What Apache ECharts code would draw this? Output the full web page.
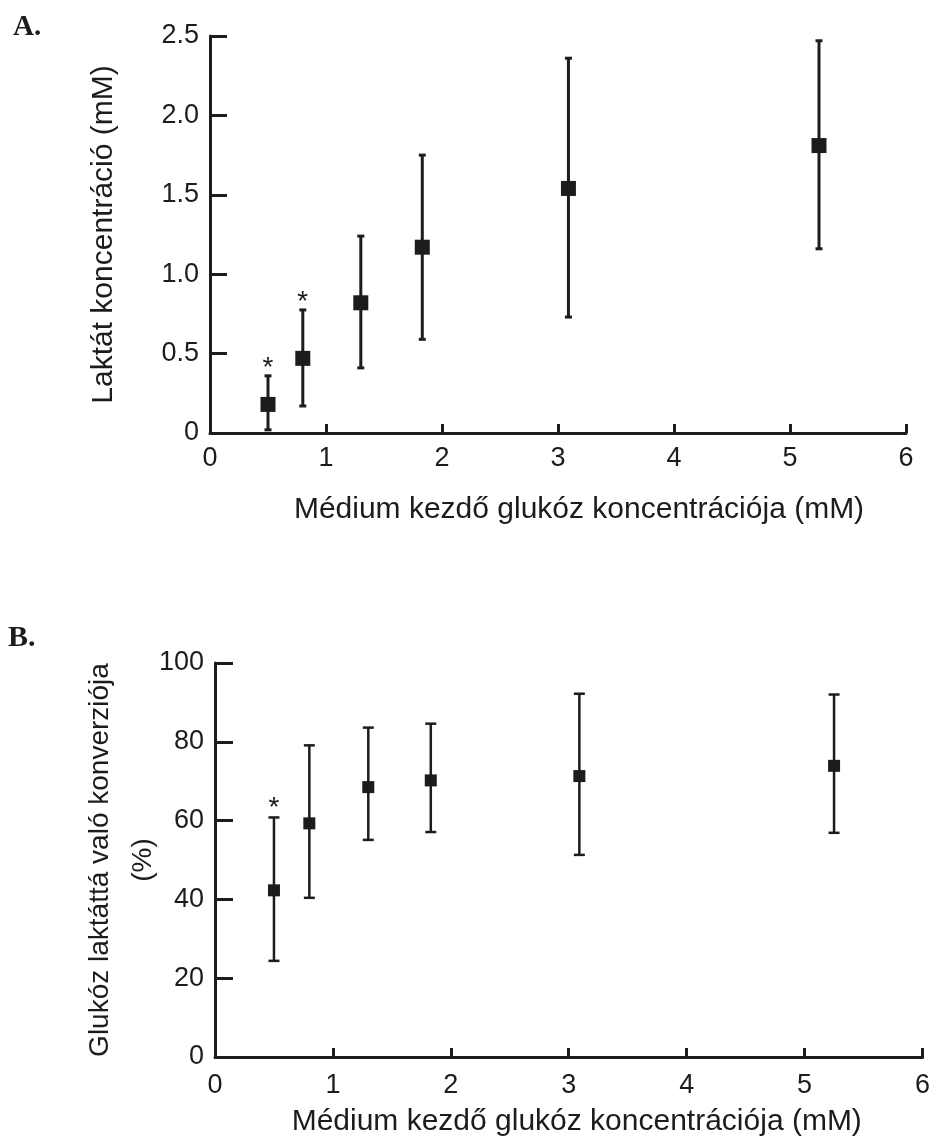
<!DOCTYPE html>
<html>
<head>
<meta charset="utf-8">
<script src="https://cdn.jsdelivr.net/npm/echarts@6/dist/echarts.min.js"></script>
<style>
  html, body { margin: 0; padding: 0; background: #fff; }
  #chart { width: 933px; height: 1142px; }
</style>
</head>
<body>
<div id="chart"></div>
<script>
// initial glucose concentration of the medium (mM), shared by both panels
const glucose = [0.5, 0.8, 1.3, 1.83, 3.09, 5.25]

// A: lactate concentration (mM)
const lactateMean = [0.18, 0.47, 0.82, 1.17, 1.54, 1.81]
const lactateLow = [0.02, 0.17, 0.41, 0.59, 0.73, 1.16]
const lactateHigh = [0.36, 0.775, 1.24, 1.75, 2.36, 2.47]
const lactateSig = [1, 1, 0, 0, 0, 0]

// B: conversion of glucose to lactate (%)
const convMean = [42.3, 59.3, 68.5, 70.2, 71.3, 73.9]
const convLow = [24.4, 40.4, 55.1, 57.1, 51.3, 56.9]
const convHigh = [60.8, 79.1, 83.6, 84.6, 92.2, 92.0]
const convSig = [1, 0, 0, 0, 0, 0]

const ink = '#1c1c1c'
const sans = '"Liberation Sans", Arial, sans-serif'
const serif = '"Liberation Serif", "Times New Roman", serif'

function errorBars(capHalf, lw, starGap) {
  return function (params, api) {
    const x = api.value(0)
    const lo = api.coord([x, api.value(1)])
    const hi = api.coord([x, api.value(2)])
    const line = { stroke: ink, lineWidth: lw }
    const children = [
      { type: 'line', shape: { x1: lo[0], y1: lo[1], x2: hi[0], y2: hi[1] }, style: line },
      { type: 'line', shape: { x1: lo[0] - capHalf, y1: lo[1], x2: lo[0] + capHalf, y2: lo[1] }, style: line },
      { type: 'line', shape: { x1: hi[0] - capHalf, y1: hi[1], x2: hi[0] + capHalf, y2: hi[1] }, style: line },
    ]
    if (api.value(3)) {
      children.push({
        type: 'text',
        style: {
          text: '*', x: hi[0], y: hi[1] - starGap,
          align: 'center', verticalAlign: 'middle',
          font: '28px ' + sans, fill: ink,
        },
      })
    }
    return { type: 'group', children }
  }
}

function xAxisOf(gridIndex, gap, shift, margin) {
  return {
    gridIndex,
    type: 'value',
    min: 0,
    max: 6,
    interval: 1,
    name: 'Médium kezdő glukóz koncentrációja (mM)',
    nameLocation: 'middle',
    nameGap: gap,
    nameMoveOverlap: false,
    nameTextStyle: { fontFamily: sans, fontSize: 30, color: ink, padding: [0, 0, 0, shift] },
    axisLine: { show: true, lineStyle: { color: ink, width: 3 } },
    axisTick: { show: true, inside: true, length: 9, lineStyle: { color: ink, width: 3 } },
    axisLabel: { fontFamily: sans, fontSize: 27, color: ink, margin },
    splitLine: { show: false },
  }
}

const chart = echarts.init(document.getElementById('chart'))

chart.setOption({
  animation: false,
  backgroundColor: '#fff',
  title: [
    { text: 'A.', left: 8, top: 8, textStyle: { fontFamily: serif, fontWeight: 'bold', fontSize: 29, color: ink } },
    { text: 'B.', left: 3, top: 618, textStyle: { fontFamily: serif, fontWeight: 'bold', fontSize: 30, color: ink } },
  ],
  grid: [
    { left: 210, top: 36, right: 27, bottom: 709 },
    { left: 215, top: 663, right: 7, bottom: 85 },
  ],
  xAxis: [xAxisOf(0, 62, 42, 12), xAxisOf(1, 50, 16, 15)],
  yAxis: [
    {
      gridIndex: 0,
      type: 'value',
      min: 0,
      max: 2.5,
      interval: 0.5,
      name: 'Laktát koncentráció (mM)',
      nameLocation: 'middle',
      nameGap: 91,
      nameMoveOverlap: false,
      nameTextStyle: { fontFamily: sans, fontSize: 30, color: ink },
      axisLine: { show: true, lineStyle: { color: ink, width: 3 } },
      axisTick: { show: true, inside: true, length: 17, lineStyle: { color: ink, width: 3 } },
      axisLabel: {
        fontFamily: sans, fontSize: 27, color: ink, margin: 11,
        formatter: (v) => (v === 0 ? '0' : v.toFixed(1)),
      },
      splitLine: { show: false },
    },
    {
      gridIndex: 1,
      type: 'value',
      min: 0,
      max: 100,
      interval: 20,
      name: 'Glukóz laktáttá való konverziója\n(%)',
      nameLocation: 'middle',
      nameGap: 50,
      nameMoveOverlap: false,
      nameTextStyle: { fontFamily: sans, fontSize: 28, color: ink, lineHeight: 43, align: 'center' },
      axisLine: { show: true, lineStyle: { color: ink, width: 3 } },
      axisTick: { show: true, inside: true, length: 18, lineStyle: { color: ink, width: 3 } },
      axisLabel: { fontFamily: sans, fontSize: 27, color: ink, margin: 11 },
      splitLine: { show: false },
    },
  ],
  series: [
    {
      type: 'custom',
      xAxisIndex: 0,
      yAxisIndex: 0,
      renderItem: errorBars(3.5, 3, 8),
      encode: { x: 0, y: [1, 2] },
      data: glucose.map((x, i) => [x, lactateLow[i], lactateHigh[i], lactateSig[i]]),
      z: 2,
    },
    {
      type: 'scatter',
      xAxisIndex: 0,
      yAxisIndex: 0,
      symbol: 'rect',
      symbolSize: 15,
      itemStyle: { color: ink, opacity: 1 },
      data: glucose.map((x, i) => [x, lactateMean[i]]),
      z: 3,
    },
    {
      type: 'custom',
      xAxisIndex: 1,
      yAxisIndex: 1,
      renderItem: errorBars(5.5, 2.5, 9),
      encode: { x: 0, y: [1, 2] },
      data: glucose.map((x, i) => [x, convLow[i], convHigh[i], convSig[i]]),
      z: 2,
    },
    {
      type: 'scatter',
      xAxisIndex: 1,
      yAxisIndex: 1,
      symbol: 'rect',
      symbolSize: 12,
      itemStyle: { color: ink, opacity: 1 },
      data: glucose.map((x, i) => [x, convMean[i]]),
      z: 3,
    },
  ],
})
</script>
</body>
</html>
